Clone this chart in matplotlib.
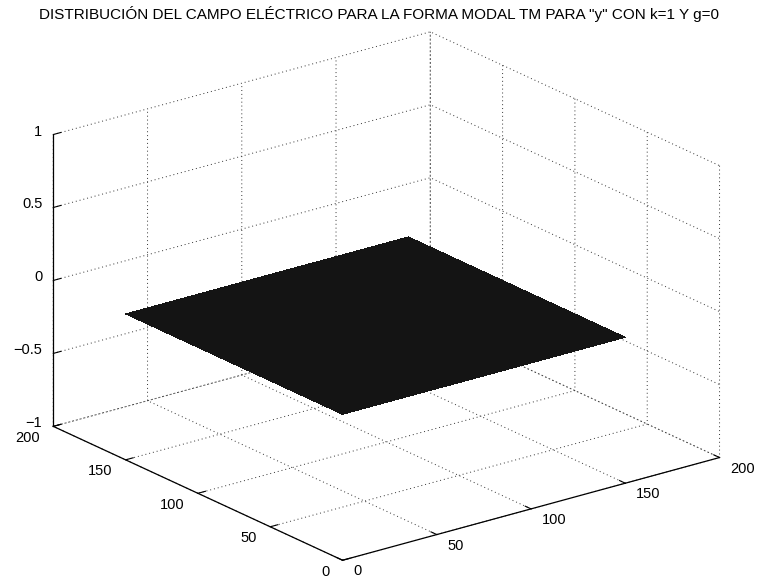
import numpy as np
import matplotlib
matplotlib.use("Agg")
import matplotlib.pyplot as plt
from matplotlib.transforms import ScaledTranslation
from mpl_toolkits.mplot3d import proj3d

plt.rcParams['font.family'] = ['Liberation Sans', 'DejaVu Sans']

title = 'DISTRIBUCIÓN DEL CAMPO ELÉCTRICO PARA LA FORMA MODAL TM PARA "y" CON k=1 Y g=0'
x_samples = np.arange(0, 151)      # mesh columns
y_samples = np.arange(0, 151)      # mesh rows
field_value = 0.0                  # E field for g=0 is zero everywhere
x_ticks = [0, 50, 100, 150, 200]
y_ticks = [0, 50, 100, 150, 200]
z_ticks = [-1, -0.5, 0, 0.5, 1]
x_ticklabels = ['0', '50', '100', '150', '200']
y_ticklabels = ['0', '50', '100', '150', '200']
z_ticklabels = ['\u22121', '\u22120.5', '0', '0.5', '1']

X, Y = np.meshgrid(x_samples, y_samples)
Z = np.full(X.shape, field_value)

fig = plt.figure(figsize=(7.58, 5.78), dpi=100)
ax = fig.add_axes([0.0, 0.0, 1.0, 0.95], projection='3d')
ax.set_proj_type('ortho')
ax.view_init(elev=20.8, azim=-127.5)
ax.set_box_aspect((1, 1, 0.657), zoom=1.31)

ax.plot_surface(X, Y, Z, color='#141414', shade=False, linewidth=0,
                antialiased=False, rstride=1, cstride=1)

ax.set_xlim(0, 200)
ax.set_ylim(0, 200)
ax.set_zlim(-1, 1)
ax.set_xticks(x_ticks)
ax.set_yticks(y_ticks)
ax.set_zticks(z_ticks)

for axis in (ax.xaxis, ax.yaxis, ax.zaxis):
    axis.set_pane_color((1, 1, 1, 0))
    axis.pane.set_edgecolor((1, 1, 1, 0))
    axis.line.set_color('black')
    axis.line.set_linewidth(0.9)
    axis._axinfo['grid'].update(color='#333333', linestyle=(0, (1, 3)), linewidth=0.7)
    axis._axinfo['tick']['inward_factor'] = 0.0
    axis._axinfo['tick']['outward_factor'] = 0.25
    axis.set_tick_params(colors='black', pad=0,
                         labelbottom=False, labeltop=False,
                         labelleft=False, labelright=False)
    axis.label.set_visible(False)
    axis.offsetText.set_visible(False)

# draw once so the 3D projection matrix is known
fig.canvas.draw()


def px_offset(dx, dy):
    return ax.transData + ScaledTranslation(dx / 100.0, dy / 100.0, fig.dpi_scale_trans)


def label_at(x, y, z, s, dx, dy, ha):
    px, py, _ = proj3d.proj_transform(x, y, z, ax.M)
    ax.text2D(px, py, s, ha=ha, va='center', fontsize=10.5,
              transform=px_offset(dx, dy))


for v, s in zip(x_ticks, x_ticklabels):
    label_at(v, 0, -1, s, 11, -11, 'left')
for v, s in zip(y_ticks, y_ticklabels):
    label_at(0, v, -1, s, -13, -11.5, 'right')
for v, s in zip(z_ticks, z_ticklabels):
    label_at(0, 200, v, s, -11, 3, 'right')

fig.text(0.5, 0.976, title, ha='center', va='center', fontsize=11.0)

fig.savefig('out.png', dpi=100)
